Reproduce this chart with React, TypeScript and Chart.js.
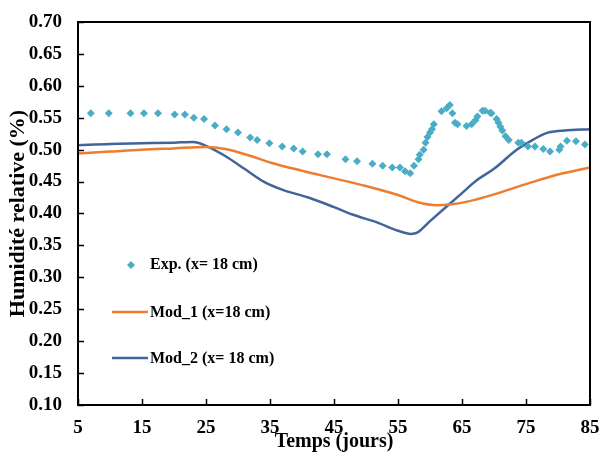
import React, { useEffect, useRef } from "react";
import { Chart, registerables } from "chart.js";

Chart.register(...registerables);

const expX = [7.0, 9.8, 13.2, 15.3, 17.5, 20.1, 21.7, 23.1, 24.7, 26.4, 28.2, 30.0, 31.9, 33.0, 34.9, 36.9, 38.7, 40.1, 42.5, 43.9, 46.8, 48.6, 51.0, 52.6, 54.1, 55.3, 56.1, 56.9, 57.5, 58.2, 58.4, 59.0, 59.3, 59.6, 60.0, 60.3, 60.6, 61.8, 62.6, 63.1, 63.5, 63.9, 64.3, 65.7, 66.5, 67.1, 67.4, 68.2, 68.6, 69.4, 69.6, 70.4, 70.7, 71.0, 71.3, 71.8, 72.3, 73.8, 74.3, 75.3, 76.4, 77.7, 78.75, 80.2, 80.4, 81.4, 82.8, 84.2];
const expY = [0.557, 0.557, 0.557, 0.557, 0.557, 0.555, 0.555, 0.550, 0.548, 0.538, 0.532, 0.527, 0.519, 0.515, 0.510, 0.505, 0.502, 0.497, 0.493, 0.493, 0.485, 0.482, 0.478, 0.475, 0.472, 0.472, 0.466, 0.463, 0.475, 0.485, 0.492, 0.500, 0.511, 0.520, 0.527, 0.532, 0.540, 0.560, 0.565, 0.570, 0.557, 0.542, 0.540, 0.537, 0.540, 0.546, 0.552, 0.561, 0.561, 0.558, 0.557, 0.548, 0.542, 0.536, 0.530, 0.521, 0.515, 0.511, 0.511, 0.505, 0.505, 0.501, 0.497, 0.500, 0.505, 0.514, 0.513, 0.508];

const mod1X = [5, 10, 15, 20, 25, 28, 32, 35, 40, 45, 50, 55, 58, 61, 63, 66, 70, 75, 80, 85];
const mod1Y = [0.494, 0.497, 0.500, 0.502, 0.504, 0.501, 0.490, 0.480, 0.467, 0.455, 0.443, 0.429, 0.418, 0.413, 0.414, 0.419, 0.430, 0.446, 0.461, 0.472];

const mod2X = [5, 10, 15, 20, 23, 25, 28, 31, 34, 37, 41, 45, 48, 52, 55, 57, 58, 60, 62.6, 65, 67.3, 70, 73.5, 76, 78.2, 81, 85];
const mod2Y = [0.507, 0.509, 0.510, 0.511, 0.512, 0.506, 0.490, 0.470, 0.450, 0.437, 0.425, 0.410, 0.398, 0.385, 0.373, 0.368, 0.370, 0.388, 0.411, 0.432, 0.452, 0.470, 0.4995, 0.515, 0.526, 0.530, 0.532];

const labels = ["Exp. (x= 18 cm)", "Mod_1 (x=18 cm)", "Mod_2 (x= 18 cm)"];
const colors = ["#4BACC6", "#ED7D31", "#41659B"];

const framePlugin = {
  id: "frameAndLegend",
  afterDatasetsDraw(chart: any) {
    const { ctx, chartArea, scales } = chart;
    const { left, right, top, bottom } = chartArea;
    ctx.save();
    ctx.strokeStyle = "#000";
    ctx.lineWidth = 2;
    ctx.strokeRect(left, top, right - left, bottom - top);
    ctx.lineWidth = 1.5;
    scales.y.ticks.forEach((t: any) => {
      const py = Math.round(scales.y.getPixelForValue(t.value)) + 0.5;
      ctx.beginPath();
      ctx.moveTo(left, py);
      ctx.lineTo(left + 6, py);
      ctx.stroke();
    });
    scales.x.ticks.forEach((t: any) => {
      const px = Math.round(scales.x.getPixelForValue(t.value)) + 0.5;
      ctx.beginPath();
      ctx.moveTo(px, bottom);
      ctx.lineTo(px, bottom - 6);
      ctx.stroke();
    });
    // legend
    ctx.font = 'bold 16px "Liberation Serif", "Times New Roman", serif';
    ctx.textBaseline = "middle";
    ctx.textAlign = "left";
    const tx = 150;
    const ys = [265, 313, 359];
    ctx.fillStyle = colors[0];
    ctx.beginPath();
    ctx.moveTo(131, ys[0] - 4);
    ctx.lineTo(135, ys[0]);
    ctx.lineTo(131, ys[0] + 4);
    ctx.lineTo(127, ys[0]);
    ctx.closePath();
    ctx.fill();
    for (let i = 1; i < 3; i++) {
      ctx.strokeStyle = colors[i];
      ctx.lineWidth = 2.5;
      ctx.beginPath();
      ctx.moveTo(112, ys[i] - 1);
      ctx.lineTo(148, ys[i] - 1);
      ctx.stroke();
    }
    ctx.fillStyle = "#000";
    for (let i = 0; i < 3; i++) ctx.fillText(labels[i], tx, ys[i]);
    ctx.restore();
  },
};

export default function App() {
  const ref = useRef<HTMLCanvasElement | null>(null);
  useEffect(() => {
    document.body.style.margin = "0";
    const tickFont = { family: '"Liberation Serif", "Times New Roman", serif', size: 19, weight: "bold" as const };
    const chart = new Chart(ref.current as HTMLCanvasElement, {
      type: "scatter",
      data: {
        datasets: [
          {
            label: labels[0],
            data: expX.map((x, i) => ({ x, y: expY[i] })),
            showLine: false,
            pointStyle: "rectRot",
            pointRadius: 4,
            pointBackgroundColor: colors[0],
            pointBorderWidth: 0,
            backgroundColor: colors[0],
            borderColor: colors[0],
          },
          {
            label: labels[1],
            data: mod1X.map((x, i) => ({ x, y: mod1Y[i] })),
            showLine: true,
            pointRadius: 0,
            borderColor: colors[1],
            borderWidth: 2.5,
            cubicInterpolationMode: "monotone",
          },
          {
            label: labels[2],
            data: mod2X.map((x, i) => ({ x, y: mod2Y[i] })),
            showLine: true,
            pointRadius: 0,
            borderColor: colors[2],
            borderWidth: 2.5,
            cubicInterpolationMode: "monotone",
          },
        ],
      },
      options: {
        animation: false,
        responsive: false,
        layout: { padding: { top: 22, right: 12, left: 0, bottom: 0 } },
        plugins: { legend: { display: false }, tooltip: { enabled: false } },
        scales: {
          x: {
            type: "linear",
            min: 5,
            max: 85,
            afterFit: (s: any) => { s.height = 54; s.paddingLeft = 0; s.paddingRight = 0; },
            grid: { display: true, drawOnChartArea: false, drawTicks: false },
            border: { display: false },
            ticks: { stepSize: 10, color: "#000", font: tickFont, padding: 12, maxRotation: 0 },
            title: {
              display: true,
              text: "Temps (jours)",
              color: "#000",
              font: { family: '"Liberation Serif", "Times New Roman", serif', size: 20, weight: "bold" },
              padding: { top: 0, bottom: 5 },
            },
          },
          y: {
            type: "linear",
            min: 0.1,
            max: 0.7,
            afterFit: (s: any) => { s.width = 78; s.paddingTop = 0; s.paddingBottom = 0; },
            grid: { display: true, drawOnChartArea: false, drawTicks: false },
            border: { display: false },
            ticks: {
              stepSize: 0.05,
              color: "#000",
              font: tickFont,
              padding: 16,
              callback: (v: any) => Number(v).toFixed(2),
            },
            title: {
              display: true,
              text: "Humidité relative (%)",
              color: "#000",
              font: { family: '"Liberation Serif", "Times New Roman", serif', size: 22, weight: "bold" },
              padding: { top: 5, bottom: 0 },
            },
          },
        },
      },
      plugins: [framePlugin],
    });
    return () => chart.destroy();
  }, []);
  return (
    <div style={{ width: 602, height: 459, background: "#fff" }}>
      <canvas ref={ref} width={602} height={459} style={{ display: "block" }} />
    </div>
  );
}
